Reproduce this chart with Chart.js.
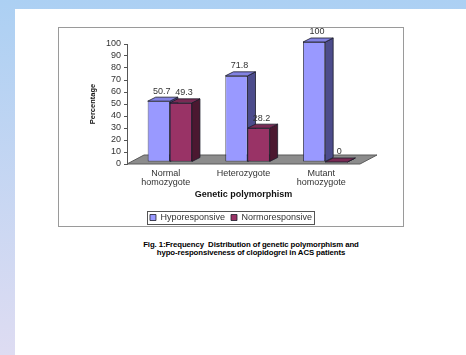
<!DOCTYPE html>
<html>
<head>
<meta charset="utf-8">
<title>Genetic polymorphism</title>
<script src="https://cdn.jsdelivr.net/npm/chart.js@4.4.1/dist/chart.umd.min.js"></script>
<style>
html, body { margin: 0; padding: 0; }
body {
	width: 466px; height: 355px; position: relative; overflow: hidden;
	background: linear-gradient(to bottom, #acd0f3, #dedcf2);
	font-family: "Liberation Sans", Arial, sans-serif;
}
#sheet { position: absolute; left: 15px; top: 9px; right: 0; bottom: 0; background: #fff; }
#frame {
	position: absolute; left: 58px; top: 27px; width: 346px; height: 200px;
	box-sizing: border-box; border: 1px solid #9a9a9a; background: #fff;
}
#graph { position: absolute; left: 59px; top: 28px; }
#caption {
	position: absolute; left: 90px; width: 322px; top: 241px;
	text-align: center; font-weight: bold; font-size: 7.8px; line-height: 7.5px; color: #000;
	letter-spacing: -0.1px;
}
</style>
</head>
<body>
<div id="sheet"></div>
<div id="frame"></div>
<canvas id="graph" width="344" height="204"></canvas>
<div id="caption">Fig. 1:Frequency&nbsp; Distribution of genetic polymorphism and<br>hypo-responsiveness of clopidogrel in ACS patients</div>
<script>
// Chart data
var categories = [["Normal", "homozygote"], "Heterozygote", ["Mutant", "homozygote"]];
var hypo_values = [50.7, 71.8, 100];
var normo_values = [49.3, 28.2, 0];
var hypo_label = "Hyporesponsive";
var normo_label = "Normoresponsive";
var y_max = 100;
var y_step = 10;

// Colours (front, side, top)
var hypo_color = "#9999FF";
var hypo_side = "#4C4C8C";
var hypo_top = "#8282E2";
var normo_color = "#993366";
var normo_side = "#4B1830";
var normo_top = "#7A2A54";
var floor_color = "#8C8C8C";
var text_color = "#333333";

// Fake 3D offsets
var depth_x = 8, depth_y = -4;   // bar depth
var floor_x = 17, floor_y = -9;  // floor depth
var shift_x = 4, shift_y = -2;   // bars sit a little back on the floor

Chart.defaults.font.family = "'Liberation Sans', Arial, sans-serif";
Chart.defaults.color = text_color;

function poly(ctx, pts, fill) {
	ctx.beginPath();
	ctx.moveTo(pts[0][0], pts[0][1]);
	for (var i = 1; i < pts.length; i++) ctx.lineTo(pts[i][0], pts[i][1]);
	ctx.closePath();
	ctx.fillStyle = fill;
	ctx.fill();
	ctx.lineWidth = 0.8;
	ctx.strokeStyle = "#1c1c2a";
	ctx.stroke();
}

// side and top faces of one dataset's bars
function drawFaces(ctx, meta, ds) {
	meta.data.forEach(function(bar) {
		var p = bar.getProps(["x", "y", "base", "width"], true);
		var l = p.x - p.width / 2, r = p.x + p.width / 2;
		poly(ctx, [[r, p.y], [r + depth_x, p.y + depth_y], [r + depth_x, p.base + depth_y], [r, p.base]], ds.sideColor);
		poly(ctx, [[l, p.y], [r, p.y], [r + depth_x, p.y + depth_y], [l + depth_x, p.y + depth_y]], ds.topColor);
	});
}

var bars3d = {
	id: "bars3d",
	beforeDatasetsDraw: function(chart) {
		var ctx = chart.ctx, a = chart.chartArea;
		ctx.save();
		ctx.beginPath();
		ctx.moveTo(a.left, a.bottom);
		ctx.lineTo(a.right, a.bottom);
		ctx.lineTo(a.right + floor_x, a.bottom + floor_y);
		ctx.lineTo(a.left + floor_x, a.bottom + floor_y);
		ctx.closePath();
		ctx.fillStyle = floor_color;
		ctx.fill();
		ctx.lineWidth = 1;
		ctx.strokeStyle = "#5a5a5a";
		ctx.stroke();
		ctx.restore();
		// bars sit a little back on the floor
		ctx.save();
		ctx.translate(shift_x, shift_y);
	},
	afterDatasetsDraw: function(chart) {
		var ctx = chart.ctx;
		// left bar faces first, then right bars go over them
		chart.data.datasets.forEach(function(ds, i) {
			var meta = chart.getDatasetMeta(i);
			if (i > 0) meta.data.forEach(function(bar) { bar.draw(ctx); });
			drawFaces(ctx, meta, ds);
		});
		ctx.font = "9px 'Liberation Sans', Arial, sans-serif";
		ctx.fillStyle = text_color;
		ctx.textAlign = "center";
		ctx.textBaseline = "middle";
		chart.data.datasets.forEach(function(ds, i) {
			chart.getDatasetMeta(i).data.forEach(function(bar, j) {
				ctx.fillText(String(ds.data[j]), bar.x + 3, bar.y - 10);
			});
		});
		ctx.restore();
	},
	afterDraw: function(chart) {
		// frame round the legend
		var boxes = chart.legend.legendHitBoxes;
		if (!boxes || !boxes.length) return;
		var x0 = Infinity, x1 = -Infinity, y0 = Infinity, y1 = -Infinity;
		boxes.forEach(function(b) {
			x0 = Math.min(x0, b.left); x1 = Math.max(x1, b.left + b.width);
			y0 = Math.min(y0, b.top); y1 = Math.max(y1, b.top + b.height);
		});
		var ctx = chart.ctx;
		ctx.save();
		ctx.strokeStyle = "#555";
		ctx.lineWidth = 1;
		ctx.strokeRect(Math.round(x0 - 3) + 0.5, Math.round(y0 - 2) + 0.5, Math.round(x1 - x0 + 5), Math.round(y1 - y0 + 4));
		ctx.restore();
	}
};

var canvas = document.getElementById("graph").getContext("2d");
var graph = new Chart(canvas, {
	type: "bar",
	data: {
		labels: categories,
		datasets: [
			{
				label: hypo_label,
				data: hypo_values,
				backgroundColor: hypo_color,
				sideColor: hypo_side,
				topColor: hypo_top
			},
			{
				label: normo_label,
				data: normo_values,
				backgroundColor: normo_color,
				sideColor: normo_side,
				topColor: normo_top
			}
		]
	},
	options: {
		responsive: false,
		animation: false,
		devicePixelRatio: 1,
		layout: { padding: { top: 16, left: 0, right: 0, bottom: 0 } },
		datasets: {
			bar: {
				categoryPercentage: 0.57,
				barPercentage: 1,
				borderWidth: 0.8,
				borderColor: "#1c1c2a",
				borderSkipped: false,
				clip: false
			}
		},
		plugins: {
			tooltip: { enabled: false },
			legend: {
				position: "bottom",
				labels: {
					boxWidth: 6,
					boxHeight: 6,
					padding: 6,
					color: text_color,
					font: { size: 9 }
				}
			}
		},
		scales: {
			x: {
				grid: { display: false, drawTicks: false },
				border: { display: false },
				ticks: { padding: 5, font: { size: 9, lineHeight: 1 }, color: text_color, maxRotation: 0 },
				title: {
					display: true,
					text: "Genetic polymorphism",
					font: { size: 9, weight: "bold" },
					color: "#111",
					padding: { top: 0, bottom: 6.6 }
				},
				afterFit: function(scale) { scale.height = 43; }
			},
			y: {
				min: 0,
				max: y_max,
				grid: { drawOnChartArea: false, drawTicks: true, tickLength: 3, color: "#555" },
				border: { display: true, color: "#555" },
				ticks: { stepSize: y_step, autoSkip: false, padding: 3, font: { size: 9, lineHeight: 1 }, color: text_color },
				title: {
					display: true,
					text: "Percentage",
					font: { size: 7.5, weight: "bold" },
					color: "#111",
					padding: { top: 29.5, bottom: 0 }
				},
				afterFit: function(scale) { scale.width = 68; }
			},
			pad: {
				type: "linear",
				position: "right",
				display: true,
				grid: { display: false },
				border: { display: false },
				ticks: { display: false },
				afterFit: function(scale) { scale.width = 43; }
			}
		}
	},
	plugins: [bars3d]
});
</script>
</body>
</html>
